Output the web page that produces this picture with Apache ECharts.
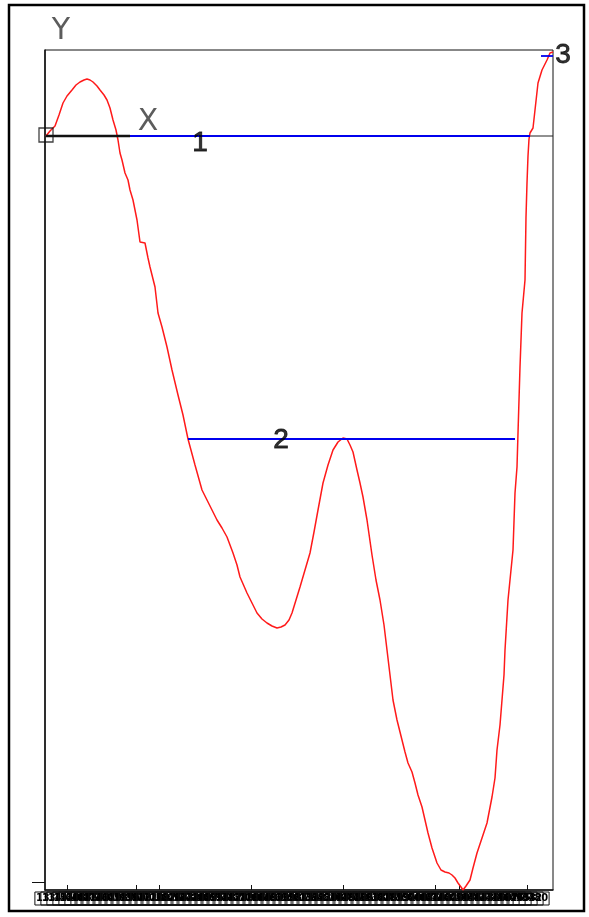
<!DOCTYPE html>
<html><head><meta charset="utf-8">
<script src="https://cdn.jsdelivr.net/npm/echarts@6/dist/echarts.min.js"></script>
<style>html,body{margin:0;padding:0;background:#fff}#c{width:589px;height:917px}</style>
</head><body><div id="c"></div>
<script>
// Profile curve (x, y) in drawing units
const curveX = [1,5,10,14,18,22,27,31,35,39,42,45,48,52,55,59,62,65,68,71,73,75,77,80,83,85,88,92,95,100,103,105,110,113,117,122,127,133,138,143,150,157,162,167,172,177,182,188,192,195,202,207,212,217,222,227,232,236,240,244,247,251,255,260,265,269,273,278,283,288,293,298,302,305,308,312,315,318,322,327,331,335,339,342,345,348,352,357,360,363,367,370,373,377,380,383,387,392,396,400,404,407,410,413,416,418,421,425,428,432,437,442,447,450,452,455,457,459,460,463,468,470,472,473,475,477,480,481,482,483,484,485,488,490,493,497,502,505,508];
const curveY = [0,5,10,21,33,40,46,51,54,56,57,56,54,50,46,41,36,28,16,6,-4,-17,-24,-37,-44,-54,-64,-84,-106,-107,-122,-131,-151,-177,-191,-211,-234,-259,-279,-303,-329,-354,-364,-374,-384,-392,-401,-417,-429,-441,-457,-467,-477,-483,-487,-490,-492,-491,-489,-484,-477,-464,-451,-434,-417,-396,-374,-347,-329,-314,-306,-302,-303,-309,-316,-334,-347,-361,-384,-419,-444,-464,-489,-514,-539,-564,-584,-604,-616,-627,-636,-647,-659,-671,-684,-697,-712,-727,-734,-736,-737,-739,-742,-747,-751,-754,-750,-744,-732,-717,-702,-687,-661,-642,-614,-589,-564,-539,-514,-464,-414,-357,-331,-297,-231,-177,-144,-81,-47,-20,-3,3,8,26,53,66,76,83,84,81,80];
// Horizontal level lines: [x0, x1, y]
const level1 = [1, 485, 0];
const level2 = [143, 470, -303];
const level3 = [496, 508, 80];
const levelNames = ['1', '2', '3'];
// Dense x tick labels (garbled strip)
const stripValues = [];
for (let v = -2; v <= 490; v += 6) stripValues.push(v);
const majorTicks = [22, 91, 114, 206, 298, 390, 414, 482];

const chart = echarts.init(document.getElementById('c'));
const lineSeries = (pts, color, width, z) => ({
  type: 'line', data: pts, showSymbol: false, symbol: 'none', silent: true,
  lineStyle: { color: color, width: width }, z: z || 2, animation: false
});
const txtLabel = (txt, size, fam, stroke) => ({ show: true, formatter: txt, position: 'inside',
  fontSize: size, color: '#000', textBorderColor: '#000', textBorderWidth: stroke || 0,
  fontFamily: fam || 'Liberation Sans' });

option = {
  animation: false,
  backgroundColor: '#fff',
  grid: { left: 45, top: 50, width: 508, height: 840, show: true, borderColor: '#111', borderWidth: 1 },
  xAxis: {
    type: 'value', min: 0, max: 508, splitLine: { show: false },
    axisLine: { show: true, onZero: false, lineStyle: { color: '#111', width: 1.5 } },
    axisTick: { show: true, inside: true, length: 5, customValues: majorTicks, lineStyle: { color: '#111' } },
    axisLabel: { show: true, customValues: stripValues, margin: 2, fontSize: 11, fontWeight: 'bold',
      color: '#000', fontFamily: 'DejaVu Sans Condensed', borderColor: '#111', borderWidth: 1, padding: [1, 1, 1, 1],
      hideOverlap: false, formatter: v => (v * 0.0731 + 12.4).toFixed(3) }
  },
  yAxis: {
    type: 'value', min: -754, max: 86, splitLine: { show: false },
    axisLine: { show: true, onZero: false, lineStyle: { color: '#111', width: 1.5 } },
    axisTick: { show: true, length: 13, customValues: [-746], lineStyle: { color: '#111' } },
    axisLabel: { show: false }
  },
  graphic: [{ type: 'rect', shape: { x: 9, y: 5, width: 575, height: 906 },
    style: { fill: 'none', stroke: '#000', lineWidth: 2.5 }, z: 100 }],
  series: [
    lineSeries([[0, 0], [508, 0]], '#222', 1, 1),
    lineSeries(curveX.map((x, i) => [x, curveY[i]]), '#ff1a1a', 1.5, 3),
    lineSeries([[level1[0], level1[2]], [level1[1], level1[2]]], '#0000ee', 1.8, 4),
    lineSeries([[level2[0], level2[2]], [level2[1], level2[2]]], '#0000ee', 1.8, 4),
    lineSeries([[level3[0], level3[2]], [level3[1], level3[2]]], '#0000ee', 1.8, 4),
    lineSeries([[1, 0], [85, 0]], '#111', 2.5, 5),
    { type: 'scatter', clip: false, silent: true, z: 6,
      data: [[1, 1]], symbol: 'rect', symbolSize: 14,
      itemStyle: { color: 'rgba(0,0,0,0)', borderColor: '#111', borderWidth: 1.3 } },
    { type: 'scatter', clip: false, silent: true, z: 7, symbolSize: 1, itemStyle: { color: 'rgba(0,0,0,0)' },
      data: [
        { value: [155, -7], label: txtLabel(levelNames[0], 28, null, 0.8) },
        { value: [236, -304], label: txtLabel(levelNames[1], 28, null, 0.8) },
        { value: [518, 81], label: txtLabel(levelNames[2], 28, null, 0.8) },
        { value: [103, 14], label: Object.assign(txtLabel('X', 30, 'DejaVu Sans'), { color: '#333' }) },
        { value: [16, 105], label: Object.assign(txtLabel('Y', 30, 'DejaVu Sans'), { color: '#333' }) }
      ] }
  ]
};
chart.setOption(option);
</script></body></html>
